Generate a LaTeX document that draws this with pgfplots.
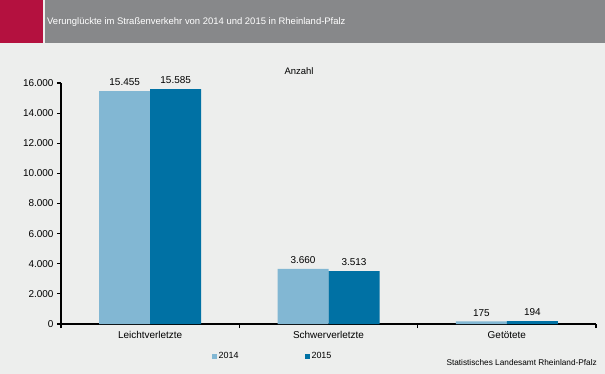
\documentclass[border=0pt]{standalone}
\usepackage{fontspec}
\setmainfont{Liberation Sans}
\usepackage{pgfplots}
\pgfplotsset{compat=1.18}
\definecolor{bg}{HTML}{EDEEED}
\definecolor{crim}{HTML}{B4113F}
\definecolor{hdr}{HTML}{87888A}
\definecolor{cA}{HTML}{82B7D3}
\definecolor{cB}{HTML}{0071A4}
\begin{document}
\begin{tikzpicture}
\fill[bg] (0bp,0bp) rectangle (605bp,374bp);
\fill[crim] (0bp,331bp) rectangle (43bp,374bp);
\fill[hdr] (45bp,331bp) rectangle (605bp,374bp);
\node[anchor=west, text=white, font=\fontsize{9.5}{11}\selectfont, inner sep=0pt] at (47bp,352bp) {Verunglückte im Straßenverkehr von 2014 und 2015 in Rheinland-Pfalz};
\node[font=\fontsize{9.5}{11}\selectfont, inner sep=0pt] at (299bp,303bp) {Anzahl};
\node[anchor=east, font=\fontsize{8.3}{10}\selectfont, inner sep=0pt] at (597bp,11bp) {Statistisches Landesamt Rheinland-Pfalz};
\begin{axis}[
  at={(61bp,50bp)}, anchor=south west,
  scale only axis, width=535bp, height=241bp,
  xmin=-0.5, xmax=2.5, ymin=0, ymax=16000,
  axis lines*=left,
  axis line style={black, line width=1.2bp},
  clip=false,
  ybar=0pt, bar width=51bp,
  /pgf/number format/assume math mode=true,
  /pgf/number format/1000 sep={.},
  scaled y ticks=false,
  ytick={0,2000,...,16000},
  xtick={0,1,2},
  xticklabels={Leichtverletzte,Schwerverletzte,Getötete},
  minor xtick={-0.5,0.5,1.5,2.5},
  tick align=outside,
  major tick length=4bp, minor tick length=4bp,
  tick style={black, line width=1.2bp},
  major x tick style={draw=none},
  ticklabel style={font=\fontsize{10}{12}\selectfont},
  nodes near coords,
  nodes near coords style={font=\fontsize{10}{12}\selectfont, anchor=south, inner sep=0pt, yshift=5bp, /pgf/number format/1000 sep={.}, /pgf/number format/assume math mode=true},
  legend columns=2,
  legend style={at={(axis description cs:0.282,-0.133)}, anchor=west, draw=none, fill=none, inner sep=0pt,
    font=\fontsize{9}{11}\selectfont, nodes={inner sep=1.5bp},
    /tikz/every even column/.append style={column sep=65bp}},
  legend image code/.code={\fill (0bp,-2.5bp) rectangle (5bp,2.5bp);},
]
\addplot[fill=cA, draw=none] coordinates {(0,15455) (1,3660) (2,175)};
\addplot[fill=cB, draw=none] coordinates {(0,15585) (1,3513) (2,194)};
\legend{2014,2015}
\end{axis}
\pgfresetboundingbox
\useasboundingbox (0bp,0bp) rectangle (605bp,374bp);
\end{tikzpicture}
\end{document}
